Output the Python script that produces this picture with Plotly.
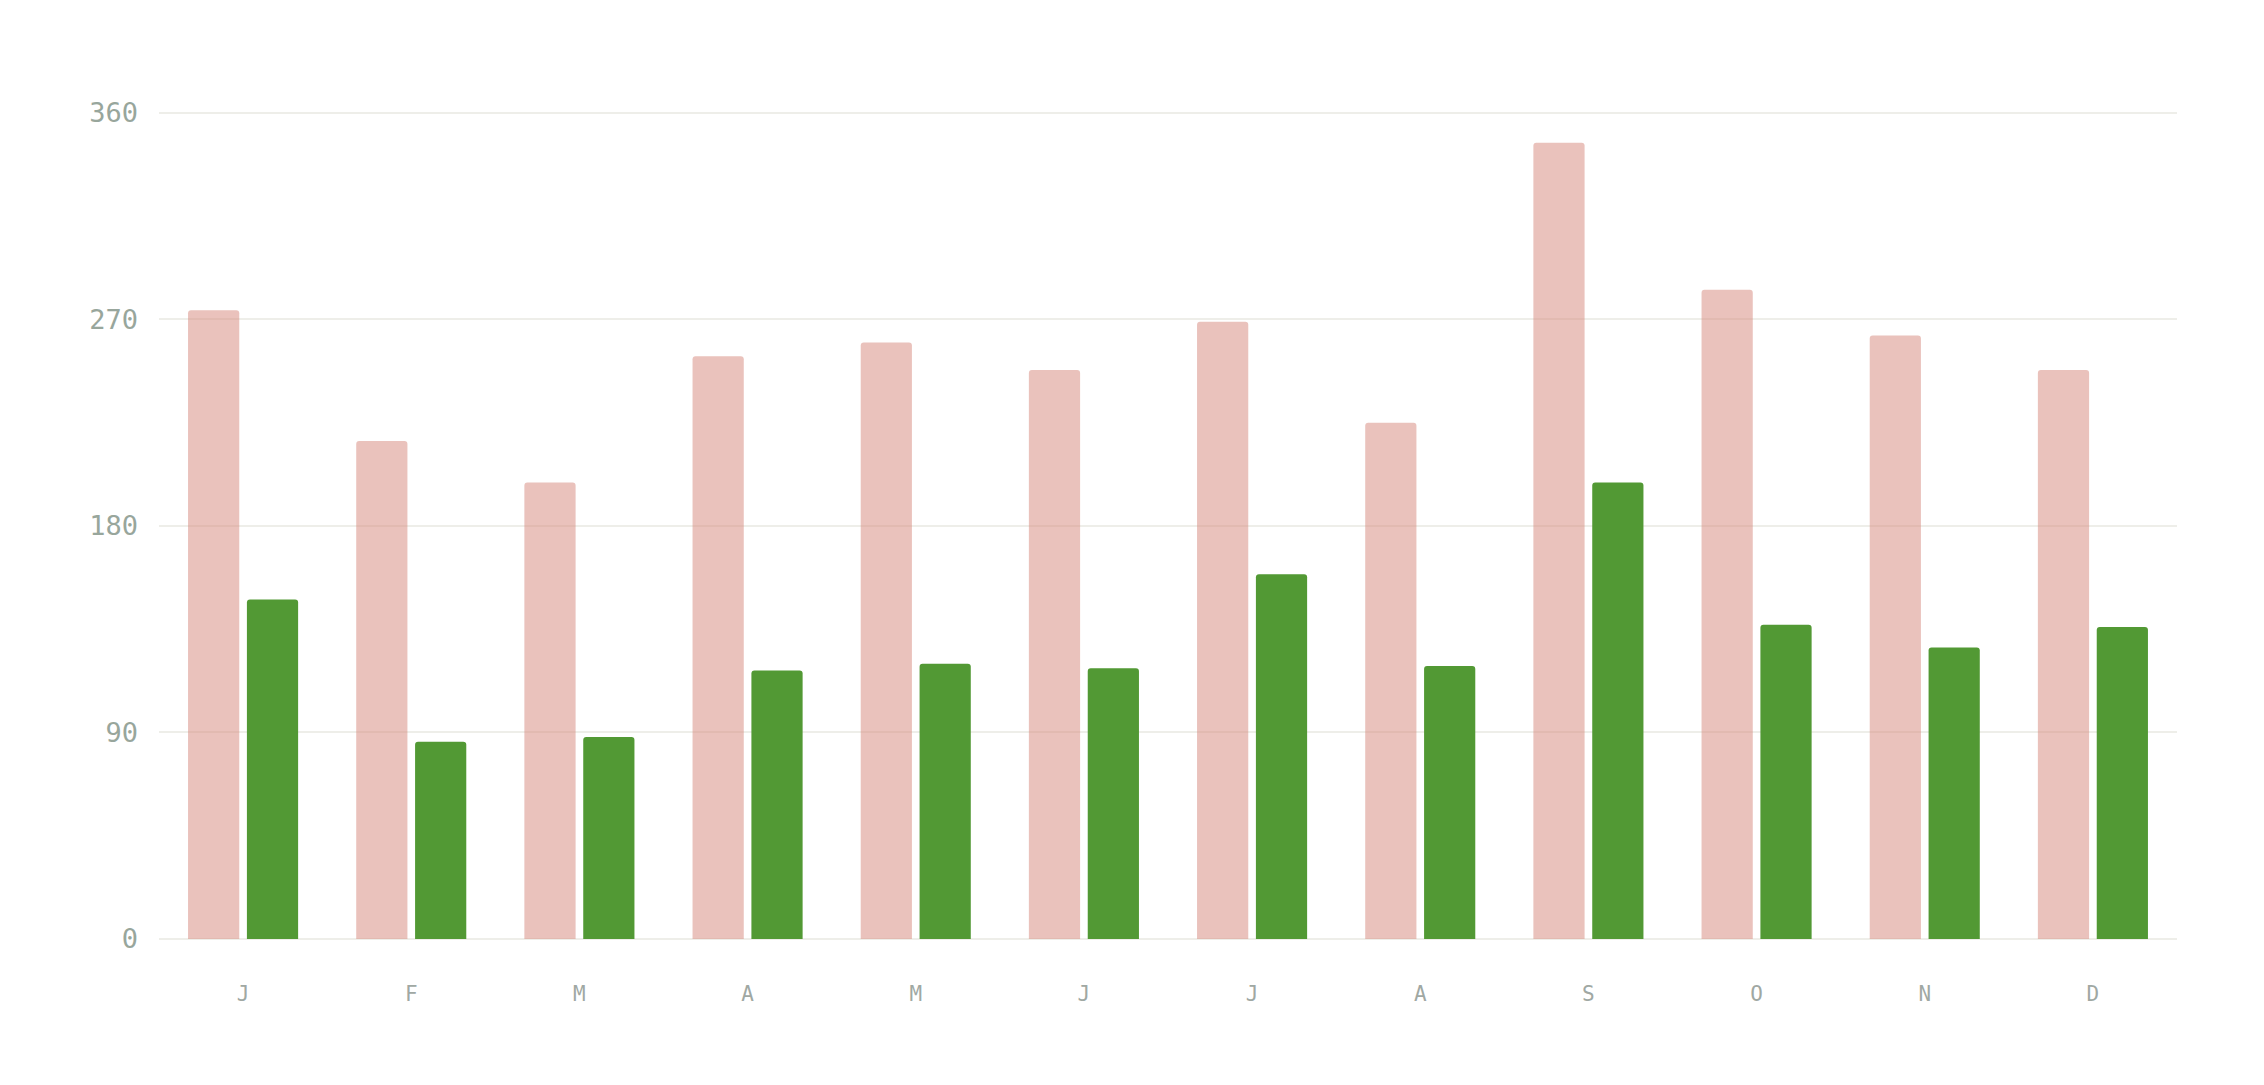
import plotly.graph_objects as go

months = ['J', 'F', 'M', 'A', 'M', 'J', 'J', 'A', 'S', 'O', 'N', 'D']
# use unique category keys so repeated letters don't merge
month_keys = [str(i) for i in range(12)]
series_a = [274, 217, 199, 254, 260, 248, 269, 225, 347, 283, 263, 248]
series_b = [148, 86, 88, 117, 120, 118, 159, 119, 199, 137, 127, 136]
y_ticks = [0, 90, 180, 270, 360]

fig = go.Figure()
fig.add_trace(go.Bar(x=month_keys, y=series_a, name='A',
                     marker=dict(color='rgba(213,133,121,0.5)', line=dict(width=0))))
fig.add_trace(go.Bar(x=month_keys, y=series_b, name='B',
                     marker=dict(color='#529934', line=dict(width=0))))

fig.update_layout(
    width=2264, height=1085,
    margin=dict(l=151, r=95, t=82, b=154),
    paper_bgcolor='white', plot_bgcolor='white',
    barmode='group', bargap=0.30, bargroupgap=0.13,
    barcornerradius=3,
    showlegend=False,
    font=dict(family='DejaVu Sans Mono, monospace'),
)
fig.update_xaxes(
    tickvals=month_keys, ticktext=months,
    showgrid=False, showline=False, zeroline=False, ticks='',
    tickfont=dict(size=21, color='#a0a8a3'),
    ticklabelstandoff=40,
)
fig.update_yaxes(
    range=[0, 370], tickvals=y_ticks,
    showgrid=True, gridcolor='#eeeee9', gridwidth=2,
    zeroline=True, zerolinecolor='#eeeee9', zerolinewidth=2,
    showline=False, ticks='',
    tickfont=dict(size=27, color='#98a69c'),
    ticklabelstandoff=20,
)

fig.write_html("out.html")
